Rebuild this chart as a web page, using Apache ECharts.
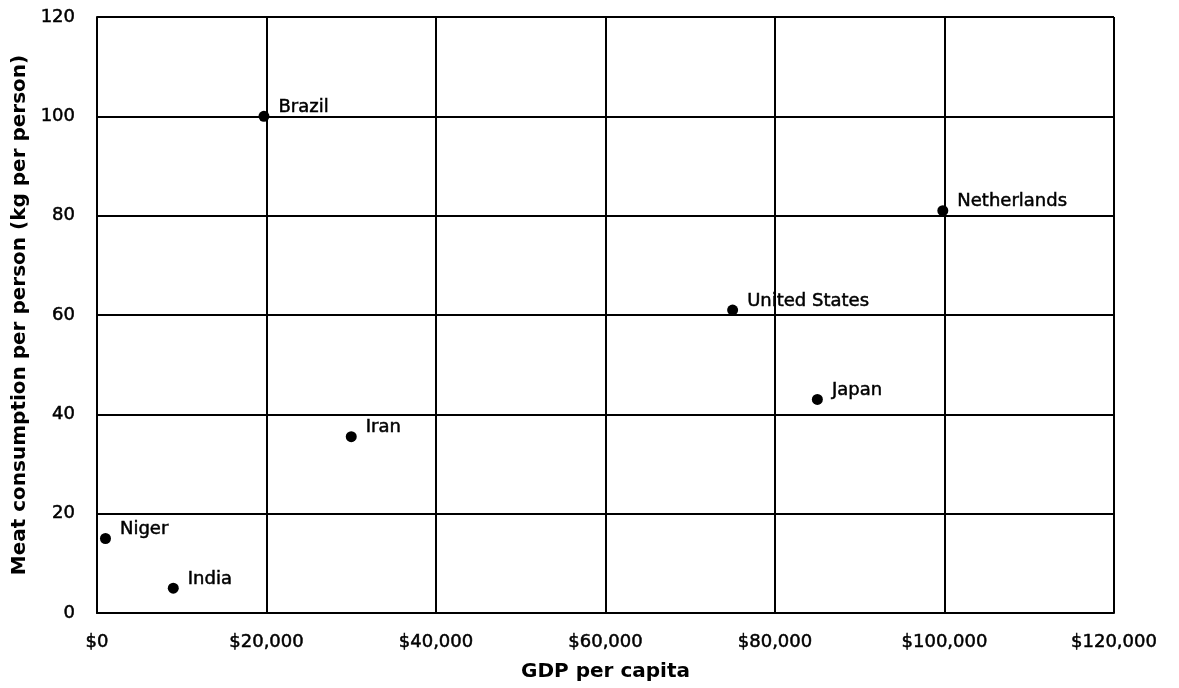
<!DOCTYPE html>
<html>
<head>
<meta charset="utf-8">
<script src="https://cdn.jsdelivr.net/npm/echarts@6/dist/echarts.min.js"></script>
<style>
html,body{margin:0;padding:0;background:#fff;}
#chart{width:1179px;height:688px;}
</style>
</head>
<body>
<div id="chart"></div>
<script>
const countries = ['Brazil', 'Netherlands', 'United States', 'Japan', 'Iran', 'Niger', 'India'];
const gdpPerCapita = [19700, 99800, 75000, 85000, 30000, 1000, 9000];
const meatPerPerson = [100, 81, 61, 43, 35.5, 15, 5];

const xTicks = { min: 0, max: 120000, interval: 20000 };
const yTicks = { min: 0, max: 120, interval: 20 };

function money(v) {
  return '$' + String(v).replace(/\B(?=(\d{3})+(?!\d))/g, ',');
}

const points = countries.map((c, i) => ({ name: c, value: [gdpPerCapita[i], meatPerPerson[i]] }));

const chart = echarts.init(document.getElementById('chart'));
const FONT = 'DejaVu Sans';
const thick = { textBorderColor: '#000', textBorderWidth: 0.5 };
chart.setOption({
  animation: false,
  backgroundColor: '#ffffff',
  grid: { left: 97, right: 65, top: 17, bottom: 75, containLabel: false },
  xAxis: {
    type: 'value',
    min: xTicks.min, max: xTicks.max, interval: xTicks.interval,
    name: 'GDP per capita',
    nameLocation: 'middle',
    nameGap: 49,
    nameTextStyle: { color: '#000', fontFamily: FONT, fontWeight: 'bold', fontSize: 20 },
    axisLine: { show: true, lineStyle: { color: '#000', width: 2 } },
    axisTick: { show: false },
    axisLabel: Object.assign({ color: '#000', fontFamily: FONT, fontSize: 18, margin: 20, formatter: money }, thick),
    splitLine: { show: true, lineStyle: { color: '#000', width: 2 } }
  },
  yAxis: {
    type: 'value',
    min: yTicks.min, max: yTicks.max, interval: yTicks.interval,
    name: 'Meat consumption per person (kg per person)',
    nameLocation: 'middle',
    nameGap: 65,
    nameTextStyle: { color: '#000', fontFamily: FONT, fontWeight: 'bold', fontSize: 20 },
    axisLine: { show: true, lineStyle: { color: '#000', width: 2 } },
    axisTick: { show: false },
    axisLabel: Object.assign({ color: '#000', fontFamily: FONT, fontSize: 18, margin: 22 }, thick),
    splitLine: { show: true, lineStyle: { color: '#000', width: 2 } }
  },
  series: [{
    type: 'scatter',
    data: points,
    symbol: 'circle',
    symbolSize: 11,
    itemStyle: { color: '#000', opacity: 1 },
    label: Object.assign({
      show: true,
      position: 'right',
      distance: 9,
      offset: [0, -9],
      formatter: p => p.name,
      color: '#000',
      fontFamily: FONT,
      fontSize: 18
    }, thick)
  }]
});
</script>
</body>
</html>
